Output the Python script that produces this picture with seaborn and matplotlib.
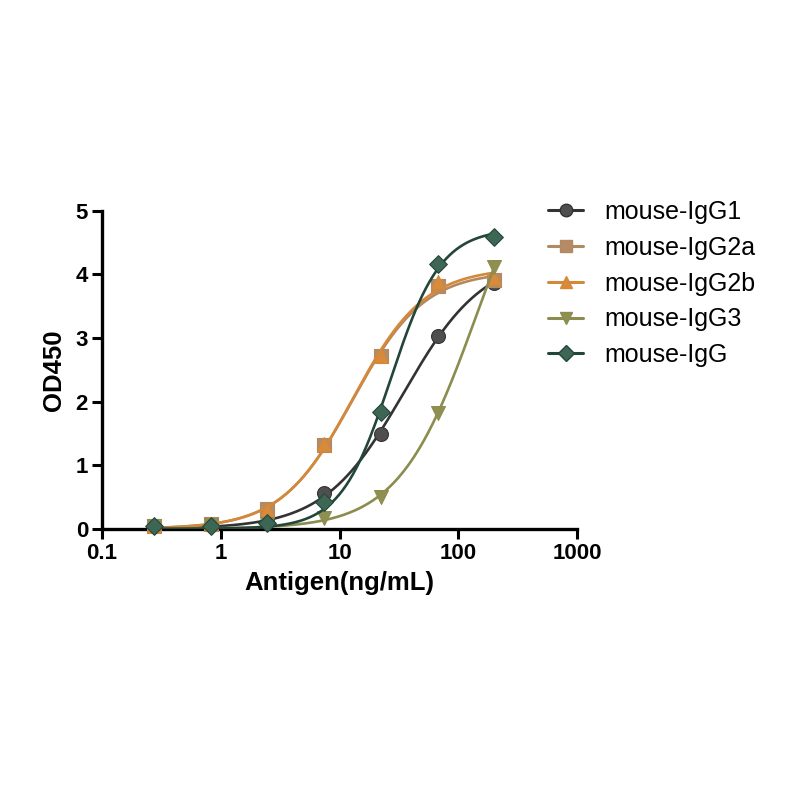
import numpy as np
import pandas as pd
import matplotlib
matplotlib.use("Agg")
import matplotlib.pyplot as plt
from matplotlib.lines import Line2D
import seaborn as sns

# ---- data ----
conc = [0.274, 0.823, 2.47, 7.41, 22.2, 66.7, 200.0]
series_names = ["mouse-IgG1", "mouse-IgG2a", "mouse-IgG2b", "mouse-IgG3", "mouse-IgG"]
igg1 = [0.05, 0.06, 0.10, 0.57, 1.49, 3.03, 3.87]
igg2a = [0.05, 0.08, 0.31, 1.31, 2.71, 3.81, 3.91]
igg2b = [0.05, 0.08, 0.30, 1.33, 2.72, 3.88, 3.95]
igg3 = [0.05, 0.06, 0.08, 0.17, 0.50, 1.82, 4.11]
igg = [0.05, 0.05, 0.09, 0.42, 1.83, 4.16, 4.59]
xticks = [0.1, 1, 10, 100, 1000]
xticklabels = ["0.1", "1", "10", "100", "1000"]
yticks = [0, 1, 2, 3, 4, 5]

marker_colors = ["#4f4f4f", "#b58b66", "#d98b3c", "#8f8f52", "#3e6654"]
line_colors = ["#333333", "#b3895f", "#d4883a", "#8c8c4e", "#24463a"]
markers = ["o", "s", "^", "v", "D"]
msizes = [10, 10, 10, 10, 9]


def model(p, lx):
    d, lc, b = p
    return d / (1.0 + 10.0 ** ((lc - lx) * b))


def fit4pl(x, y):
    # sigmoidal dose-response fit (bottom fixed at 0)
    lx = np.log10(np.asarray(x, float))
    y = np.asarray(y, float)
    p = np.array([y.max() * 1.05, lx.mean() + 0.5, 1.0])
    lam = 1e-2
    for _ in range(600):
        r = y - model(p, lx)
        J = np.zeros((len(lx), 3))
        for k in range(3):
            dp = np.zeros(3); dp[k] = 1e-6 * max(1, abs(p[k]))
            J[:, k] = (model(p + dp, lx) - model(p - dp, lx)) / (2 * dp[k])
        A = J.T @ J
        g = J.T @ r
        step = np.linalg.solve(A + lam * np.diag(np.diag(A) + 1e-9), g)
        pn = p + step
        if np.sum((y - model(pn, lx)) ** 2) < np.sum(r ** 2):
            p = pn; lam *= 0.5
        else:
            lam *= 3
    return p


sns.set_theme(style="ticks")
plt.rcParams["font.family"] = ["Liberation Sans", "DejaVu Sans"]
plt.rcParams["text.color"] = "black"
plt.rcParams["axes.labelcolor"] = "black"
plt.rcParams["xtick.color"] = "black"
plt.rcParams["ytick.color"] = "black"

fig = plt.figure(figsize=(8, 8), dpi=100)
ax = fig.add_axes([0.1275, 0.339, 0.594, 0.3975])

all_y = [igg1, igg2a, igg2b, igg3, igg]
rows = []
for name, ys in zip(series_names, all_y):
    p = fit4pl(conc, ys)
    lxs = np.linspace(np.log10(conc[0]), np.log10(conc[-1]), 300)
    for lxv, yv in zip(lxs, model(p, lxs)):
        rows.append({"x": 10 ** lxv, "y": yv, "series": name})
curves = pd.DataFrame(rows)
pts = pd.DataFrame([{"x": c, "y": v, "series": n}
                    for n, ys in zip(series_names, all_y) for c, v in zip(conc, ys)])

for i, name in enumerate(series_names):
    sns.lineplot(data=curves[curves.series == name], x="x", y="y", ax=ax,
                 color=line_colors[i], lw=1.9, zorder=2 + i, legend=False)
    sns.scatterplot(data=pts[pts.series == name], x="x", y="y", ax=ax,
                    marker=markers[i], s=msizes[i] ** 2, color=marker_colors[i],
                    edgecolor=line_colors[i], linewidth=0.8, zorder=3 + i,
                    legend=False, clip_on=False)

ax.set_xscale("log")
ax.set_xlim(0.1, 1000)
ax.set_ylim(0, 5)
ax.set_xticks(xticks)
ax.set_xticklabels(xticklabels)
ax.set_yticks(yticks)
ax.minorticks_off()
ax.tick_params(axis="both", width=2.2, length=7, labelsize=16, pad=3,
               color="black", labelcolor="black")
for lab in ax.get_xticklabels() + ax.get_yticklabels():
    lab.set_fontweight("bold")
for s in ["left", "bottom"]:
    ax.spines[s].set_linewidth(2.4)
    ax.spines[s].set_color("black")
sns.despine(ax=ax)
ax.set_xlabel("Antigen(ng/mL)", fontsize=18.5, fontweight="bold", labelpad=5, color="black")
ax.set_ylabel("OD450", fontsize=18.5, fontweight="bold", labelpad=7, color="black")

handles = [Line2D([0], [0], color=line_colors[i], lw=2.2, marker=markers[i],
                  markersize=msizes[i] - 1, markerfacecolor=marker_colors[i],
                  markeredgecolor=line_colors[i])
           for i in range(len(series_names))]
leg = fig.legend(handles, series_names, loc="upper left", bbox_to_anchor=(0.657, 0.778),
                 frameon=False, fontsize=18, handlelength=1.4, labelspacing=0.47,
                 handletextpad=0.85)
for t in leg.get_texts():
    t.set_color("black")

fig.savefig("out.png", dpi=100, facecolor="white")
